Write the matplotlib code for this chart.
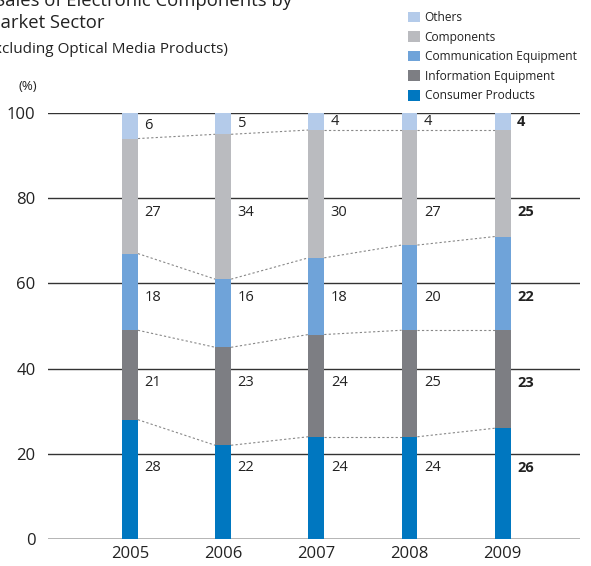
import numpy as np
import matplotlib.pyplot as plt
from matplotlib.patches import Patch

plt.rcParams['font.family'] = ['Open Sans', 'DejaVu Sans']

years = ['2005', '2006', '2007', '2008', '2009']
sectors = ['Consumer Products', 'Information Equipment', 'Communication Equipment',
           'Components', 'Others']
consumer = [28, 22, 24, 24, 26]
information = [21, 23, 24, 25, 23]
communication = [18, 16, 18, 20, 22]
components = [27, 34, 30, 27, 25]
others = [6, 5, 4, 4, 4]
colors = ['#0077c0', '#7d7e83', '#6fa3d9', '#babbbf', '#b4cbea']

series = [consumer, information, communication, components, others]
# labels sit on fixed rows, except "Others" which is centred in its segment
label_rows = [16.7, 36.7, 56.7, 76.7, None]
x = np.arange(len(years))
width = 0.17

fig = plt.figure(figsize=(5.91, 5.66), dpi=100)
ax = fig.add_axes([48 / 591, 27 / 566, 532 / 591, 426 / 566])

bottom = np.zeros(len(years))
for vals, col, row in zip(series, colors, label_rows):
    vals = np.array(vals, dtype=float)
    ax.bar(x, vals, width, bottom=bottom, color=col, zorder=2)
    for i, v in enumerate(vals):
        y = bottom[i] + v / 2 if row is None else row
        ax.text(x[i] + width / 2 + 0.07, y, str(int(v)),
                va='center', ha='left', fontsize=10.5, color='#222222',
                fontweight='bold' if i == len(years) - 1 else 'normal', zorder=3)
    bottom = bottom + vals
    # dashed connectors between neighbouring bars
    if col != colors[-1]:
        for i in range(len(years) - 1):
            ax.plot([x[i] + width / 2, x[i + 1] - width / 2], [bottom[i], bottom[i + 1]],
                    ls=(0, (2, 2)), color='#888888', lw=0.8, zorder=1)

ax.set_xlim(-0.88, 4.83)
ax.set_ylim(0, 100)
ax.set_yticks([0, 20, 40, 60, 80, 100])
ax.yaxis.grid(True, color='#333333', lw=1.0, zorder=0)
ax.set_axisbelow(True)
ax.tick_params(length=0, labelsize=12, colors='#222222')
ax.tick_params(axis='y', pad=9)
ax.tick_params(axis='x', pad=5)
ax.set_xticks(x)
ax.set_xticklabels(years)
for s in ax.spines.values():
    s.set_visible(False)
ax.axhline(0, color='#333333', lw=1.0, zorder=0)

fig.text(28 / 591, 1 - 87 / 566, '(%)', fontsize=9.5, color='#222222', va='center', ha='center')

fig.text(292 / 591, 1 - 6 / 566, 'Sales of Electronic Components by', fontsize=13.3,
         color='#222222', va='baseline', ha='right')
fig.text(105 / 591, 1 - 28 / 566, 'Market Sector', fontsize=13.3,
         color='#222222', va='baseline', ha='right')
fig.text(228 / 591, 1 - 53 / 566, '(Excluding Optical Media Products)', fontsize=11,
         color='#222222', va='baseline', ha='right')

handles = [Patch(facecolor=c, edgecolor='none') for c in colors[::-1]]
fig.legend(handles, sectors[::-1], loc='upper left', bbox_to_anchor=(408 / 591, 1 - 11 / 566),
           frameon=False, fontsize=8.6, handlelength=1.0, handleheight=1.0,
           handletextpad=0.4, labelspacing=0.55, borderpad=0, borderaxespad=0,
           labelcolor='#222222')

fig.savefig('out.png', dpi=100)
